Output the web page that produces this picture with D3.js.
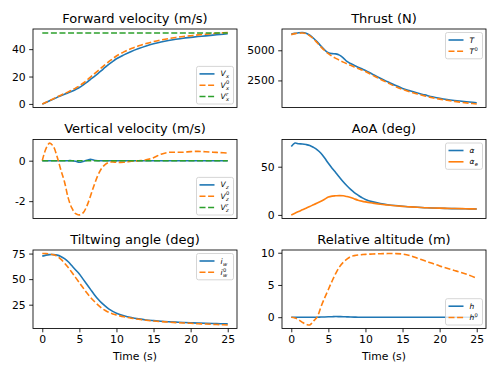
<!DOCTYPE html>
<html>
<head>
<meta charset="utf-8">
<script src="https://cdn.jsdelivr.net/npm/d3@7"></script>
<style>
  body { margin: 0; background: #fff; }
  svg { display: block; font-family: "DejaVu Sans", sans-serif; }
</style>
</head>
<body>
<svg id="chart" width="498" height="374"></svg>
<script>
// time samples (s)
var time = [0,0.5,1,1.5,2,2.5,3,3.5,4,4.5,5,5.5,6,6.5,7,7.5,8,8.5,9,9.5,10,
            11,12,13,14,15,16,17,18,19,20,21,22,23,24,25];

// forward velocity
var vx  = [0,1.1,2.3,3.5,4.8,5.9,7,8.1,9.3,10.6,12,13.8,15.8,17.9,20,22.2,24.5,26.8,29,31,33,
           35.8,38.3,40.4,42.3,43.9,45.2,46.3,47.2,48,48.6,49.2,49.7,50.2,50.7,51.2];
var vx0 = [0,1.2,2.5,3.8,5.2,6.4,7.6,8.8,10.1,11.6,13.2,15.1,17.3,19.6,21.9,24.2,26.5,28.8,31,33,35,
           38,40.4,42.4,44.1,45.5,46.7,47.7,48.5,49.2,49.8,50.4,50.9,51.4,51.8,52.1];
var vxr = [51.8,51.8,51.8,51.8,51.8,51.8,51.8,51.8,51.8,51.8,51.8,51.8,51.8,51.8,51.8,51.8,51.8,51.8,51.8,51.8,51.8,
           51.8,51.8,51.8,51.8,51.8,51.8,51.8,51.8,51.8,51.8,51.8,51.8,51.8,51.8,51.8];

// thrust
var thrust  = [6350,6400,6450,6470,6420,6250,6000,5700,5350,5030,4800,4720,4700,4600,4380,4080,3900,3750,3600,3460,3330,
               3000,2680,2390,2100,1840,1640,1450,1300,1140,1020,920,840,770,710,650];
var thrust0 = [6300,6380,6420,6430,6380,6200,5950,5620,5280,4980,4720,4500,4330,4170,4020,3880,3750,3620,3490,3370,3240,
               2920,2600,2300,2010,1760,1550,1370,1210,1070,950,850,760,680,610,550];

// vertical velocity
var vz  = [0,0,0,0,0,0,0,0,0,-0.03,-0.08,-0.04,0.02,0.07,0.02,0,0,0,0,0,0,
           0,0,0,0,0,0,0,0,0,0,0,0,0,0,0];
var vz0 = [0,0.6,0.87,0.7,0.2,-0.45,-1.05,-1.85,-2.35,-2.62,-2.68,-2.58,-2.25,-1.75,-1.2,-0.72,-0.38,-0.18,-0.08,-0.06,-0.08,
           -0.08,-0.03,0,0.04,0.15,0.32,0.41,0.42,0.42,0.45,0.46,0.44,0.42,0.4,0.38];
var vzr = [0,0,0,0,0,0,0,0,0,0,0,0,0,0,0,0,0,0,0,0,0,
           0,0,0,0,0,0,0,0,0,0,0,0,0,0,0];

// angle of attack
var aoa  = [71,74.5,73.8,73.6,73,72,70,67.5,64,59,53.5,48.5,43.8,39,34.4,30.2,26.4,23.2,20.5,18,16,
            13.5,11.8,10.6,9.7,9,8.4,7.9,7.5,7.2,6.9,6.7,6.5,6.4,6.3,6.2];
var aoaE = [0,1.8,3.5,5.3,7,8.8,10.5,12.3,14.2,16.3,18.5,19.5,19.8,20,19.8,19,18,16.6,15.3,14.3,13.5,
            12.2,11,10.2,9.5,8.9,8.3,7.9,7.5,7.2,7,6.8,6.6,6.5,6.3,6.2];

// tiltwing angle
var tilt  = [72.5,73.5,74,74,73.5,72.2,70,67,63,59,55,50,45,40,35,30.5,26.7,23.5,20.7,18.5,16.7,
             14.2,12.4,11.1,10.1,9.4,8.8,8.3,7.9,7.6,7.3,7,6.8,6.6,6.4,6.2];
var tilt0 = [75,75,74.6,73.8,72.4,69.5,65.7,61.3,56.5,51.5,46.5,41.5,36.6,32.2,28.3,24.8,21.7,19.3,17.4,16,15,
             13.2,11.8,10.7,9.8,9.1,8.5,8,7.5,7.1,6.8,6.4,6.1,5.8,5.5,5.2];

// relative altitude
var alt  = [0,0,0,0,0,0,0,0,0.02,0.04,0.06,0.08,0.1,0.09,0.08,0.05,0.03,0.01,0,0,0,
            0,0,0,0,0,0,0,0,0,0,0,0,0,0,0];
var alt0 = [0,-0.12,-0.4,-0.8,-1.1,-1.2,-0.6,0.05,1.6,3,4.3,5.6,6.8,7.8,8.5,9,9.4,9.55,9.65,9.7,9.75,
            9.8,9.85,9.87,9.87,9.8,9.55,9.15,8.75,8.35,7.95,7.6,7.25,6.9,6.5,6.05];

var xTicks = [0,5,10,15,20,25];

var C0 = "#1f77b4", C1 = "#ff7f0e", C2 = "#2ca02c";

var svg = d3.select("#chart");

var colX = [[33, 237], [282, 486]];
var rowY = [[29, 107.5], [139.5, 218.5], [250, 328.5]];

var panels = [
  {title: "Forward velocity (m/s)", col: 0, row: 0, yTicks: [0,20,40], legend: "lower",
   series: [{v: vx, c: C0, d: false, lab: ["V","x",""]},
            {v: vx0, c: C1, d: true, lab: ["V","x","0"]},
            {v: vxr, c: C2, d: true, lab: ["V","x","r"]}]},
  {title: "Thrust (N)", col: 1, row: 0, yTicks: [2500,5000], legend: "upper",
   series: [{v: thrust, c: C0, d: false, lab: ["T","",""]},
            {v: thrust0, c: C1, d: true, lab: ["T","","0"]}]},
  {title: "Vertical velocity (m/s)", col: 0, row: 1, yTicks: [-2,0], legend: "lower",
   series: [{v: vz, c: C0, d: false, lab: ["V","z",""]},
            {v: vz0, c: C1, d: true, lab: ["V","z","0"]},
            {v: vzr, c: C2, d: true, lab: ["V","z","r"]}]},
  {title: "AoA (deg)", col: 1, row: 1, yTicks: [0,50], legend: "upper",
   series: [{v: aoa, c: C0, d: false, lab: ["\u03b1","",""]},
            {v: aoaE, c: C1, d: false, lab: ["\u03b1","e",""]}]},
  {title: "Tiltwing angle (deg)", col: 0, row: 2, yTicks: [25,50,75], legend: "upper", xaxis: true,
   series: [{v: tilt, c: C0, d: false, lab: ["i","w",""]},
            {v: tilt0, c: C1, d: true, lab: ["i","w","0"]}]},
  {title: "Relative altitude (m)", col: 1, row: 2, yTicks: [0,5,10], legend: "lower", xaxis: true,
   series: [{v: alt, c: C0, d: false, lab: ["h","",""]},
            {v: alt0, c: C1, d: true, lab: ["h","","0"]}]}
];

panels.forEach(function(p) {
  var x0 = colX[p.col][0], x1 = colX[p.col][1];
  var y0 = rowY[p.row][0], y1 = rowY[p.row][1];

  var x = d3.scaleLinear().domain([-1.25, 26.25]).range([x0, x1]);
  var all = [];
  p.series.forEach(function(s) { all = all.concat(s.v); });
  var ext = d3.extent(all), pad = (ext[1] - ext[0]) * 0.05;
  var y = d3.scaleLinear().domain([ext[0] - pad, ext[1] + pad]).range([y1, y0]);

  var g = svg.append("g");

  // lines
  var clipId = "clip" + p.col + p.row;
  svg.append("clipPath").attr("id", clipId).append("rect")
    .attr("x", x0).attr("y", y0).attr("width", x1 - x0).attr("height", y1 - y0);
  var lg = g.append("g").attr("clip-path", "url(#" + clipId + ")");
  p.series.forEach(function(s) {
    var line = d3.line()
      .x(function(d, i) { return x(time[i]); })
      .y(function(d) { return y(d); })
      .curve(d3.curveCatmullRom.alpha(0.5));
    lg.append("path")
      .attr("d", line(s.v))
      .attr("fill", "none")
      .attr("stroke", s.c)
      .attr("stroke-width", 1.6)
      .attr("stroke-dasharray", s.d ? "6,2.6" : null);
  });

  // y axis
  var ya = g.append("g").attr("transform", "translate(" + x0 + ",0)")
    .call(d3.axisLeft(y).tickValues(p.yTicks).tickSize(3.8).tickPadding(3.5)
      .tickFormat(function(d) { return d; }));
  ya.select(".domain").remove();
  ya.selectAll("line").attr("stroke-width", 0.85);
  ya.selectAll("text").attr("font-size", "10.8px").attr("font-family", "DejaVu Sans").attr("fill", "#000");

  if (p.xaxis) {
    var xa = g.append("g").attr("transform", "translate(0," + y1 + ")")
      .call(d3.axisBottom(x).tickValues(xTicks).tickSize(3.8).tickPadding(3.5));
    xa.select(".domain").remove();
    xa.selectAll("line").attr("stroke-width", 0.85);
    xa.selectAll("text").attr("font-size", "10.8px").attr("font-family", "DejaVu Sans").attr("fill", "#000");
    g.append("text").attr("x", (x0 + x1) / 2).attr("y", y1 + 31)
      .attr("text-anchor", "middle").attr("font-size", "10.8px").text("Time (s)");
  }

  // frame
  g.append("rect").attr("x", x0).attr("y", y0).attr("width", x1 - x0).attr("height", y1 - y0)
    .attr("fill", "none").attr("stroke", "#000").attr("stroke-width", 0.85);

  // title
  g.append("text").attr("x", (x0 + x1) / 2).attr("y", y0 - 6.5)
    .attr("text-anchor", "middle").attr("font-size", "13px").text(p.title);

  // legend
  var n = p.series.length, rowH = 11.3, fs = 7.5;
  var bw = 37, bh = 15 + (n - 1) * rowH;
  var bx = x1 - 3.5 - bw;
  var by = p.legend === "upper" ? y0 + 3.5 : y1 - 3.5 - bh;
  var leg = g.append("g");
  leg.append("rect").attr("x", bx).attr("y", by).attr("width", bw).attr("height", bh)
    .attr("rx", 2).attr("fill", "#fff").attr("fill-opacity", 0.8)
    .attr("stroke", "#ccc").attr("stroke-width", 0.8);
  p.series.forEach(function(s, i) {
    var cy = by + 7.5 + i * rowH;
    leg.append("line").attr("x1", bx + 3).attr("x2", bx + 18).attr("y1", cy).attr("y2", cy)
      .attr("stroke", s.c).attr("stroke-width", 1.6)
      .attr("stroke-dasharray", s.d ? "6,2.6" : null);
    var tx = bx + 24;
    var base = leg.append("text").attr("x", tx).attr("y", cy + 2.5)
      .attr("font-size", fs + "px").attr("font-style", "italic").text(s.lab[0]);
    var w = base.node().getComputedTextLength();
    if (s.lab[1]) {
      leg.append("text").attr("x", tx + w + 0.3).attr("y", cy + 4.5)
        .attr("font-size", "5.2px").attr("font-style", "italic").text(s.lab[1]);
    }
    if (s.lab[2]) {
      leg.append("text").attr("x", tx + w + 0.3).attr("y", cy - 0.8)
        .attr("font-size", "5.2px").attr("font-style", s.lab[2] === "0" ? "normal" : "italic").text(s.lab[2]);
    }
  });
});
</script>
</body>
</html>
